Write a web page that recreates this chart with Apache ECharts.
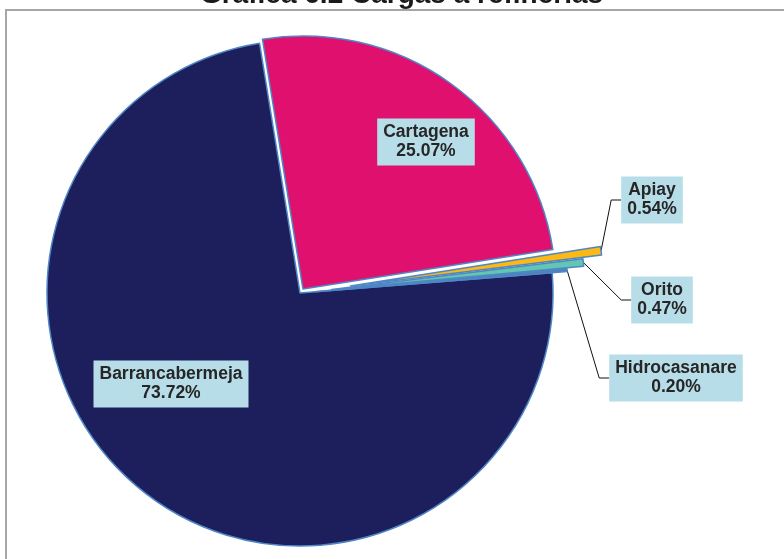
<!DOCTYPE html>
<html><head><meta charset="utf-8">
<script src="https://cdn.jsdelivr.net/npm/echarts@6/dist/echarts.min.js"></script>
<style>html,body{margin:0;padding:0;background:#fff}#c{width:784px;height:559px}</style>
</head><body><div id="c"></div>
<script>
const titleText = 'Gráfica 6.2 Cargas a refinerías';
const categories = ['Cartagena', 'Apiay', 'Orito', 'Hidrocasanare', 'Barrancabermeja'];
const values = [25.07, 0.54, 0.47, 0.20, 73.72];

const colors = ['#e0106f', '#fdb913', '#62c6b0', '#4f81bd', '#1d1f5c'];
const explode = [5, 51, 32, 15, 0];
const labelPos = [[426, 142], [652, 200], [662, 300], [676, 378], [171, 384]];
const labelInside = [true, false, false, false, true];

const font = 'Liberation Sans, Arial, sans-serif';
const cx = 300, cy = 293, startAngle = 99.2;
const total = values.reduce((a, b) => a + b, 0);
const series = [];
let cum = 0;
const mids = values.map(v => { const m = startAngle - (cum + v / 2) / total * 360; cum += v; return m; });

for (let k = categories.length - 1; k >= 0; k--) {
  const i = k;
  const a = mids[i] * Math.PI / 180;
  series.push({
    type: 'pie',
    center: [cx + explode[i] * Math.cos(a), cy - explode[i] * Math.sin(a)],
    radius: 253,
    startAngle: startAngle,
    clockwise: true,
    avoidLabelOverlap: false,
    animation: false,
    silent: true,
    emphasis: { disabled: true },
    label: {
      position: labelInside[i] ? 'inside' : 'outside',
      formatter: p => p.name + '\n' + values[p.dataIndex].toFixed(2) + '%',
      color: '#262626',
      fontFamily: font,
      fontWeight: 'bold',
      fontSize: 17.5,
      lineHeight: 19,
      backgroundColor: '#b7dde8',
      padding: [5, 6, 4, 6],
      align: 'center'
    },
    labelLine: { length: 10, length2: 10, smooth: false, lineStyle: { color: '#111', width: 1 } },
    labelLayout: function (p) {
      if (p.dataIndex !== i) return {};
      return { x: labelPos[i][0], y: labelPos[i][1], align: 'center', verticalAlign: 'middle' };
    },
    data: categories.map((name, j) => ({
      name: name,
      value: values[j],
      itemStyle: j === i
        ? { color: colors[j], borderColor: '#4f86c6', borderWidth: 1.5 }
        : { color: 'rgba(0,0,0,0)', borderWidth: 0 },
      label: { show: j === i },
      labelLine: { show: j === i && !labelInside[i] }
    }))
  });
}

const chart = echarts.init(document.getElementById('c'), null, { renderer: 'canvas' });
chart.setOption({
  backgroundColor: '#ffffff',
  title: {
    text: titleText,
    left: 195,
    top: -24,
    textStyle: { fontFamily: font, fontWeight: 'bold', fontSize: 28, color: '#1a1a1a' }
  },
  graphic: [{
    type: 'rect',
    shape: { x: 6, y: 10, width: 900, height: 700 },
    style: { fill: 'none', stroke: '#a6a6a6', lineWidth: 2 },
    silent: true,
    z: -1
  }],
  series: series
});
</script></body></html>
